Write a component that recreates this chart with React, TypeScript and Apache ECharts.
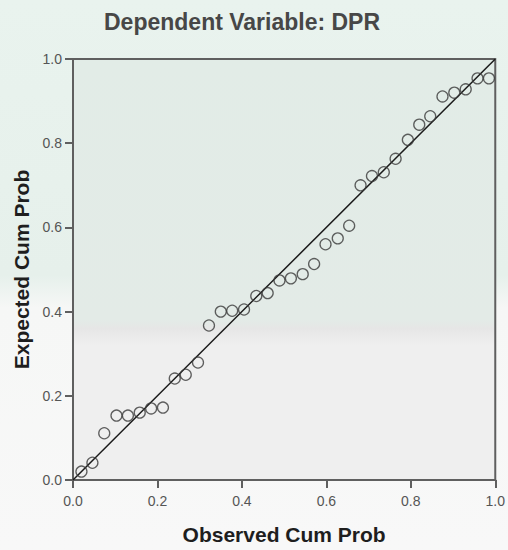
import React, { useEffect, useRef } from "react";
import * as echarts from "echarts";

const titleText = "Dependent Variable: DPR";
const xAxisName = "Observed Cum Prob";
const yAxisName = "Expected Cum Prob";

const observed = [
  0.02, 0.046, 0.074, 0.103, 0.13, 0.158, 0.185, 0.213, 0.241, 0.267, 0.296,
  0.322, 0.35, 0.377, 0.405, 0.434, 0.461, 0.489, 0.516, 0.544, 0.571,
  0.598, 0.627, 0.654, 0.681, 0.708, 0.736, 0.764, 0.793, 0.82, 0.846,
  0.875, 0.903, 0.93, 0.958, 0.985,
];
const expected = [
  0.02, 0.041, 0.111, 0.153, 0.153, 0.16, 0.17, 0.172, 0.241, 0.25, 0.279,
  0.367, 0.4, 0.402, 0.405, 0.437, 0.444, 0.474, 0.479, 0.489, 0.513,
  0.56, 0.574, 0.604, 0.7, 0.722, 0.731, 0.763, 0.808, 0.844, 0.864,
  0.911, 0.92, 0.928, 0.954, 0.954,
];
const refLineX = [0, 1];
const refLineY = [0, 1];
const tickLabels = ["0.0", "0.2", "0.4", "0.6", "0.8", "1.0"];

const FONT = "'Liberation Sans', Arial, sans-serif";

export default function App() {
  const ref = useRef<HTMLDivElement>(null);
  useEffect(() => {
    if (!ref.current) return;
    const chart = echarts.init(ref.current, undefined, { renderer: "svg" });
    const points = observed.map((x, i) => [x, expected[i]]);
    const refLine = refLineX.map((x, i) => [x, refLineY[i]]);
    const axisCommon = {
      type: "value" as const,
      min: 0,
      max: 1,
      interval: 0.2,
      nameLocation: "middle" as const,
      nameTextStyle: {
        fontFamily: FONT,
        fontSize: 21,
        fontWeight: "bold" as const,
        color: "#1e1e1e",
      },
      axisLine: { show: true, lineStyle: { color: "#5f5f5f", width: 2 } },
      axisTick: {
        show: true,
        inside: false,
        length: 8,
        lineStyle: { color: "#5f5f5f", width: 2 },
      },
      splitLine: { show: false },
      axisLabel: {
        fontFamily: FONT,
        fontSize: 14,
        color: "#555555",
        formatter: (v: number) => tickLabels[Math.round(v / 0.2)] ?? "",
      },
    };
    chart.setOption({
      animation: false,
      backgroundColor: new echarts.graphic.LinearGradient(0, 0, 0, 1, [
        { offset: 0, color: "#e9f3ee" },
        { offset: 0.5, color: "#e6f0eb" },
        { offset: 0.56, color: "#f6f7f6" },
        { offset: 1, color: "#f8f8f8" },
      ]),
      title: {
        text: titleText,
        left: 104,
        top: 10,
        padding: 0,
        textStyle: {
          fontFamily: FONT,
          fontSize: 23,
          fontWeight: "bold",
          color: "#474747",
        },
      },
      grid: {
        left: 73,
        right: 10,
        top: 59,
        bottom: 68,
        show: true,
        borderColor: "#5f5f5f",
        borderWidth: 2,
        backgroundColor: new echarts.graphic.LinearGradient(0, 0, 0, 1, [
          { offset: 0, color: "#e2ece7" },
          { offset: 0.62, color: "#e3ebe7" },
          { offset: 0.64, color: "#e6e6e6" },
          { offset: 0.68, color: "#efefef" },
          { offset: 1, color: "#efefef" },
        ]),
      },
      xAxis: {
        ...axisCommon,
        name: xAxisName,
        nameGap: 44,
        axisLabel: { ...axisCommon.axisLabel, margin: 14 },
      },
      yAxis: {
        ...axisCommon,
        name: yAxisName,
        nameGap: 37,
        axisLabel: { ...axisCommon.axisLabel, margin: 11 },
      },
      series: [
        {
          type: "line",
          data: refLine,
          showSymbol: false,
          lineStyle: { color: "#1a1a1a", width: 1.5 },
          z: 2,
        },
        {
          type: "scatter",
          data: points,
          symbol: "circle",
          symbolSize: 11,
          itemStyle: {
            color: "rgba(0,0,0,0)",
            borderColor: "#3a3a3a",
            borderWidth: 1.3,
          },
          z: 3,
        },
      ],
    });
    return () => chart.dispose();
  }, []);
  return (
    <div
      ref={ref}
      style={{ position: "fixed", left: 0, top: 0, width: 508, height: 550 }}
    />
  );
}
